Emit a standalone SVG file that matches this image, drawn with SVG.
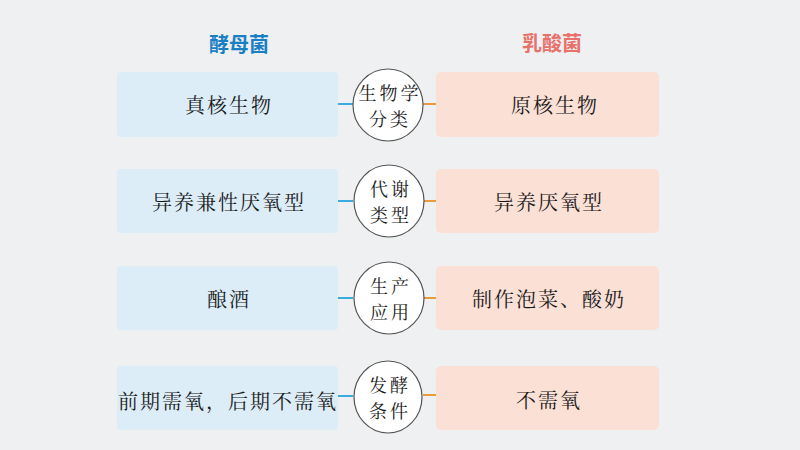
<svg xmlns="http://www.w3.org/2000/svg" width="800" height="450" viewBox="0 0 800 450">
<style>
.t{font-family:"Noto Serif CJK SC","Noto Sans CJK SC",serif;font-size:20px;letter-spacing:2px;fill:#1a1a1a;text-anchor:middle;dominant-baseline:central}
.c{font-family:"Noto Serif CJK SC","Noto Sans CJK SC",serif;font-size:18px;letter-spacing:3px;fill:#1a1a1a;text-anchor:middle;dominant-baseline:central}
.h{font-family:"Noto Sans CJK SC",sans-serif;font-size:20px;font-weight:bold;text-anchor:middle;dominant-baseline:central}
.lb{fill:#dcedf8}
.rb{fill:#fbe0d6}
.el{fill:#fff;stroke:#555;stroke-width:1.2}
.bl{stroke:#3aace0;stroke-width:2}
.or{stroke:#e89a3c;stroke-width:2}
</style>
<rect width="800" height="450" fill="#eef0f2"/>
<text class="h" x="239" y="43" fill="#1b7fc3">酵母菌</text>
<text class="h" x="552" y="42" fill="#e8716a">乳酸菌</text>
<g id="connectors">
<line class="bl" x1="337" y1="104" x2="353" y2="104"/>
<line class="or" x1="423" y1="104" x2="436" y2="104"/>
<line class="bl" x1="337" y1="201" x2="353" y2="201"/>
<line class="or" x1="424" y1="201" x2="436" y2="201"/>
<line class="bl" x1="337" y1="298" x2="353" y2="298"/>
<line class="or" x1="424" y1="298" x2="436" y2="298"/>
<line class="bl" x1="337" y1="396" x2="353" y2="396"/>
<line class="or" x1="423" y1="395" x2="436" y2="395"/>
</g>
<g id="left1"><rect class="lb" x="117" y="72" width="221" height="65" rx="4"/><text class="t" x="229" y="104">真核生物</text></g>
<g id="left2"><rect class="lb" x="117" y="169" width="221" height="64" rx="4"/><text class="t" x="229" y="201">异养兼性厌氧型</text></g>
<g id="left3"><rect class="lb" x="117" y="266" width="221" height="64" rx="4"/><text class="t" x="229" y="298">酿酒</text></g>
<g id="left4"><rect class="lb" x="117" y="366" width="221" height="64" rx="4"/><text class="t" x="228" y="400">前期需氧，后期不需氧</text></g>
<g id="right1"><rect class="rb" x="436" y="72" width="223" height="65" rx="5"/><text class="t" x="555" y="104">原核生物</text></g>
<g id="right2"><rect class="rb" x="436" y="169" width="223" height="64" rx="5"/><text class="t" x="549" y="201">异养厌氧型</text></g>
<g id="right3"><rect class="rb" x="436" y="266" width="223" height="64" rx="5"/><text class="t" x="549" y="298">制作泡菜、酸奶</text></g>
<g id="right4"><rect class="rb" x="436" y="366" width="223" height="64" rx="5"/><text class="t" x="549" y="399">不需氧</text></g>
<g id="mid1"><ellipse class="el" cx="388" cy="105" rx="35" ry="36"/><text class="c" x="390" y="92">生物学</text><text class="c" x="390" y="118">分类</text></g>
<g id="mid2"><ellipse class="el" cx="389" cy="201" rx="35" ry="36"/><text class="c" x="391" y="188">代谢</text><text class="c" x="391" y="214">类型</text></g>
<g id="mid3"><ellipse class="el" cx="389" cy="298" rx="35" ry="36"/><text class="c" x="391" y="285">生产</text><text class="c" x="391" y="311">应用</text></g>
<g id="mid4"><ellipse class="el" cx="388" cy="397" rx="34" ry="36"/><text class="c" x="390" y="384">发酵</text><text class="c" x="390" y="410">条件</text></g>
</svg>
